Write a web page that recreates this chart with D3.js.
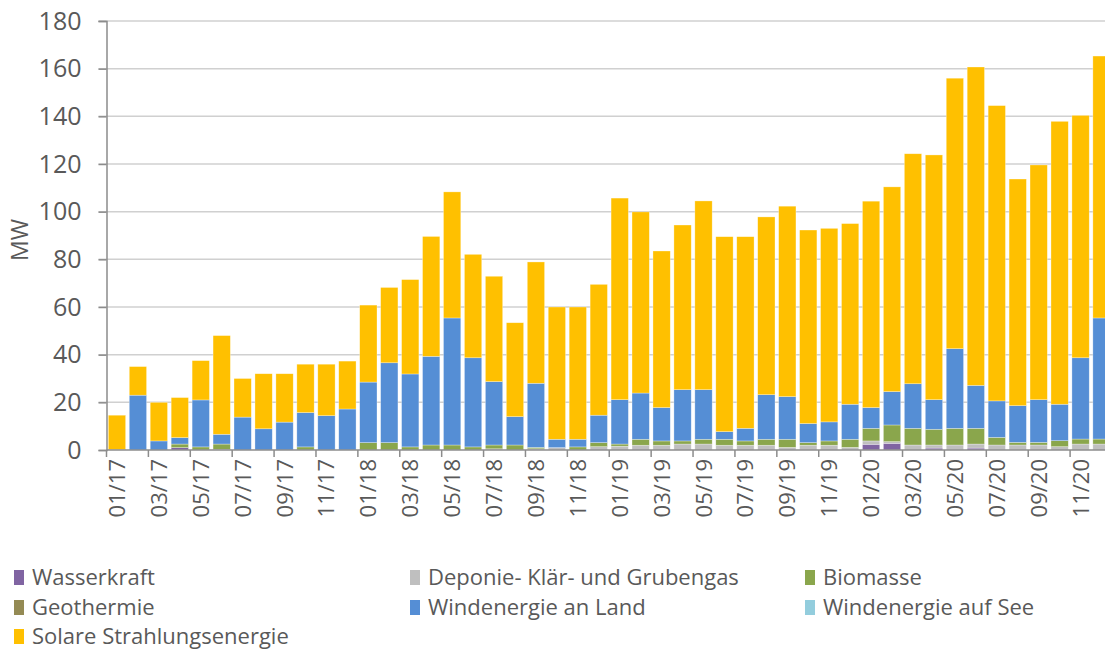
<!DOCTYPE html>
<html>
<head>
<meta charset="utf-8">
<script src="https://cdn.jsdelivr.net/npm/d3@7"></script>
<style>
  html, body { margin: 0; padding: 0; background: #fff; }
  svg { display: block; font-family: "Open Sans", sans-serif; }
  .axis text { fill: #595959; }
  .legend text { fill: #595959; font-size: 22px; }
</style>
</head>
<body>
<svg id="chart" width="1105" height="650"></svg>
<script>
// ── data (MW per month) ──
const months = [
  "01/17","02/17","03/17","04/17","05/17","06/17","07/17","08/17","09/17","10/17","11/17","12/17",
  "01/18","02/18","03/18","04/18","05/18","06/18","07/18","08/18","09/18","10/18","11/18","12/18",
  "01/19","02/19","03/19","04/19","05/19","06/19","07/19","08/19","09/19","10/19","11/19","12/19",
  "01/20","02/20","03/20","04/20","05/20","06/20","07/20","08/20","09/20","10/20","11/20","12/20"
];

const wasserkraft = [
  0,0,0,1.0,0,0.3,0,0,0,0,0,0,
  0,0,0,0,0,0,0,0,0,0,0,0,
  0,0,0,0,0,0,0,0,0,0,0,0,
  2.4,2.8,0,0.8,0,0.8,0,0,0,0,0,0
];
const deponie = [
  0,0,0,0,0,0,0,0,0,0,0,0,
  0,0,0,0,0,0,0.5,0,0.5,1.0,0,1.4,
  1.6,2.0,2.0,2.5,2.5,2.0,2.0,2.0,1.1,2.0,2.0,1.1,
  1.4,0.7,2.1,1.3,2.1,1.7,2.1,2.1,2.1,1.4,2.5,2.5
];
const biomasse = [
  0.2,0,0,1.5,1.3,2.2,0,0,0,1.3,0,0,
  3.1,3.1,1.3,2.1,2.1,1.3,1.6,2.1,0.6,0,1.3,1.7,
  0.9,2.5,1.8,1.3,2.0,2.5,1.8,2.5,3.4,1.1,1.8,3.4,
  5.3,7.0,7.0,6.6,7.0,6.6,3.2,1.1,1.1,2.5,2.1,2.1
];
const geothermie = [
  0,0,0,0,0,0,0,0,0,0,0,0,
  0,0,0,0,0,0,0,0,0,0,0,0,
  0,0,0,0,0,0,0,0,0,0,0,0,
  0,0,0,0,0,0,0,0,0,0,0,0
];
const windLand = [
  0,23,3.8,2.7,19.7,4.1,13.8,8.9,11.7,14.4,14.4,17.2,
  25.4,33.5,30.6,37.2,53.3,37.4,26.6,11.9,26.9,3.5,3.2,11.5,
  18.6,19.4,14,21.5,20.8,3.2,5.3,18.7,17.9,8.0,8.0,14.7,
  8.7,14,18.7,12.4,33.4,18,15.3,15.4,17.9,15.3,34.1,50.8
];
const windSee = [
  0,0,0,0,0,0,0,0,0,0,0,0,
  0,0,0,0,0,0,0,0,0,0,0,0,
  0,0,0,0,0,0,0,0,0,0,0,0,
  0,0,0,0,0,0,0,0,0,0,0,0
];
const solar = [
  14.4,12,16.2,16.8,16.5,41.4,16.2,23.1,20.3,20.3,21.6,20.1,
  32.3,31.6,39.6,50.3,52.9,43.4,44.2,39.4,50.9,55.5,55.5,54.9,
  84.6,76,65.7,69.1,79.2,81.8,80.4,74.6,79.9,81.2,81.2,75.8,
  86.6,85.9,96.5,102.7,113.5,133.6,123.9,95.1,98.5,118.7,101.7,109.9
];

const seriesNames = [
  "Wasserkraft", "Deponie- Klär- und Grubengas", "Biomasse", "Geothermie",
  "Windenergie an Land", "Windenergie auf See", "Solare Strahlungsenergie"
];
const seriesValues = [wasserkraft, deponie, biomasse, geothermie, windLand, windSee, solar];
const seriesColors = ["#8064a2", "#bfbfbf", "#8aa64c", "#948a54", "#558ed5", "#93cddd", "#ffc000"];
const yTicks = [0, 20, 40, 60, 80, 100, 120, 140, 160, 180];

// ── layout ──
const svg = d3.select("#chart");
const X0 = 106.5, X1 = 1112, Y0 = 450, Y1 = 21;

const rows = months.map((m, i) => {
  const r = { month: m };
  seriesNames.forEach((s, k) => { r[s] = seriesValues[k][i]; });
  return r;
});
const stacked = d3.stack().keys(seriesNames)(rows);

const x = d3.scaleBand().domain(months).range([X0, X1]).paddingInner(0.174).paddingOuter(0.087);
const y = d3.scaleLinear().domain([0, 180]).range([Y0, Y1]);

// gridlines
svg.append("g")
  .selectAll("line")
  .data(yTicks.filter((t) => t > 0))
  .join("line")
  .attr("x1", X0 - 8).attr("x2", X1)
  .attr("y1", (d) => y(d)).attr("y2", (d) => y(d))
  .attr("stroke", "#d0d0d0").attr("stroke-width", 1.5);

// bars
svg.append("g")
  .selectAll("g")
  .data(stacked)
  .join("g")
  .attr("fill", (d, k) => seriesColors[k])
  .selectAll("rect")
  .data((d) => d.filter((p) => p[1] - p[0] > 0))
  .join("rect")
  .attr("x", (p) => x(p.data.month))
  .attr("width", x.bandwidth())
  .attr("y", (p) => y(p[1]))
  .attr("height", (p) => y(p[0]) - y(p[1]))
  .attr("stroke", "#fff")
  .attr("stroke-opacity", 0.5)
  .attr("stroke-width", 0.6);

// y axis
const yAxis = svg.append("g")
  .attr("class", "axis")
  .attr("transform", `translate(${X0},0)`)
  .call(d3.axisLeft(y).tickValues(yTicks).tickSize(8).tickPadding(17));
yAxis.select(".domain").attr("stroke", "#8c8c8c").attr("stroke-width", 1.5);
yAxis.selectAll(".tick line").attr("stroke", "#8c8c8c").attr("stroke-width", 1.5);
yAxis.selectAll("text").attr("font-size", 25).attr("font-family", "Open Sans, sans-serif");

svg.append("text")
  .attr("transform", "translate(28,240) rotate(-90)")
  .attr("text-anchor", "middle")
  .attr("fill", "#595959")
  .attr("font-size", 23)
  .text("MW");

// x axis: labels every second month, tick marks between category pairs
const labelMonths = months.filter((m, i) => i % 2 === 0);
const gap = x.step() * x.paddingInner() / 2;
const xAxis = svg.append("g")
  .attr("class", "axis")
  .attr("transform", `translate(0,${Y0})`);
xAxis.append("line")
  .attr("x1", X0).attr("x2", X1)
  .attr("stroke", "#8c8c8c").attr("stroke-width", 1.5);
xAxis.selectAll("line.tick")
  .data(labelMonths)
  .join("line")
  .attr("class", "tick")
  .attr("x1", (m) => x(m) - gap).attr("x2", (m) => x(m) - gap)
  .attr("y1", 0).attr("y2", 7)
  .attr("stroke", "#8c8c8c").attr("stroke-width", 1.5);
xAxis.selectAll("text")
  .data(labelMonths)
  .join("text")
  .attr("transform", (m) => `translate(${x(m) + x.bandwidth() / 2 + 8},9) rotate(-90)`)
  .attr("text-anchor", "end")
  .attr("font-size", 22)
  .text((m) => m);

// legend
const legendPos = [
  [14, 577], [410, 577], [805, 577],
  [14, 607], [410, 607], [805, 607],
  [14, 636]
];
const legend = svg.append("g").attr("class", "legend")
  .selectAll("g")
  .data(seriesNames)
  .join("g")
  .attr("transform", (d, k) => `translate(${legendPos[k][0]},${legendPos[k][1]})`);
legend.append("rect")
  .attr("x", 0).attr("y", -7).attr("width", 10).attr("height", 15)
  .attr("fill", (d, k) => seriesColors[k]);
legend.append("text")
  .attr("x", 18).attr("y", 8)
  .text((d) => d);
</script>
</body>
</html>
